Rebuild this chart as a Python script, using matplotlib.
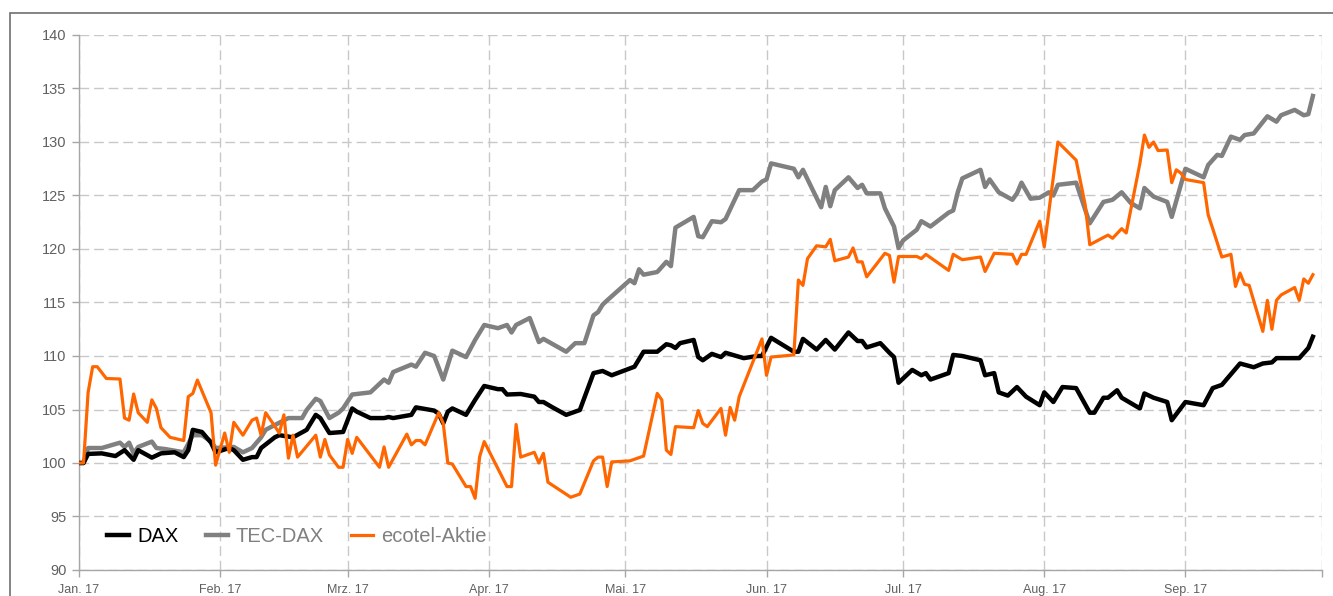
import matplotlib
matplotlib.use("Agg")
import matplotlib.pyplot as plt
import matplotlib.patches as patches
import pandas as pd

# Indexed performance 2017 (start = 100)

dax_dates = [
  "01-01", "01-02", "01-03", "01-06", "01-09", "01-11", "01-13", "01-14", "01-17", "01-19",
  "01-22", "01-24", "01-25", "01-26", "01-28", "01-30", "01-31", "02-03", "02-04", "02-06",
  "02-08", "02-09", "02-10", "02-13", "02-14", "02-17", "02-20", "02-22", "02-23", "02-25",
  "02-28", "03-02", "03-03", "03-06", "03-09", "03-10", "03-11", "03-15", "03-16", "03-20",
  "03-21", "03-22", "03-23", "03-24", "03-27", "03-29", "03-31", "04-03", "04-04", "04-05",
  "04-08", "04-11", "04-12", "04-13", "04-15", "04-18", "04-21", "04-24", "04-26", "04-28",
  "05-03", "05-05", "05-08", "05-10", "05-11", "05-12", "05-13", "05-16", "05-17", "05-18",
  "05-20", "05-22", "05-23", "05-27", "05-30", "05-31", "06-02", "06-07", "06-08", "06-09",
  "06-12", "06-14", "06-16", "06-19", "06-21", "06-22", "06-23", "06-26", "06-28", "06-29",
  "06-30", "07-03", "07-05", "07-06", "07-07", "07-11", "07-12", "07-14", "07-18", "07-19",
  "07-21", "07-22", "07-24", "07-26", "07-28", "07-31", "08-01", "08-03", "08-05", "08-08",
  "08-11", "08-12", "08-14", "08-15", "08-17", "08-18", "08-22", "08-23", "08-25", "08-28",
  "08-29", "09-01", "09-05", "09-07", "09-09", "09-13", "09-16", "09-18", "09-20", "09-21",
  "09-26", "09-28", "09-29"]
dax_values = [
  100.0, 100.0, 100.85, 100.9, 100.65, 101.2, 100.3, 101.2, 100.5, 100.9,
  101.0, 100.55, 101.2, 103.1, 102.9, 101.9, 101.0, 101.4, 101.2, 100.3,
  100.55, 100.55, 101.4, 102.4, 102.6, 102.4, 103.1, 104.5, 104.2, 102.8,
  102.9, 105.1, 104.8, 104.2, 104.2, 104.3, 104.2, 104.5, 105.2, 104.9,
  104.6, 103.7, 104.8, 105.1, 104.5, 105.9, 107.2, 106.9, 106.9, 106.4,
  106.45, 106.2, 105.7, 105.7, 105.2, 104.5, 104.95, 108.4, 108.6, 108.2,
  109.0, 110.4, 110.4, 111.1, 111.0, 110.75, 111.2, 111.5, 109.9, 109.6,
  110.2, 109.9, 110.3, 109.8, 110.0, 110.0, 111.7, 110.4, 110.4, 111.6,
  110.6, 111.5, 110.6, 112.2, 111.4, 111.4, 110.8, 111.2, 110.3, 109.9,
  107.5, 108.7, 108.2, 108.4, 107.8, 108.4, 110.1, 110.0, 109.6, 108.2,
  108.4, 106.6, 106.3, 107.1, 106.2, 105.4, 106.6, 105.7, 107.1, 107.0,
  104.7, 104.7, 106.1, 106.1, 106.8, 106.1, 105.1, 106.5, 106.1, 105.7,
  104.0, 105.7, 105.4, 107.0, 107.3, 109.3, 108.95, 109.3, 109.4, 109.8,
  109.8, 110.75, 111.8]

tec_dates = [
  "01-01", "01-02", "01-03", "01-06", "01-10", "01-11", "01-12", "01-13", "01-14", "01-17",
  "01-18", "01-20", "01-24", "01-26", "01-28", "01-30", "01-31", "02-04", "02-06", "02-08",
  "02-10", "02-11", "02-13", "02-16", "02-19", "02-20", "02-22", "02-23", "02-25", "02-27",
  "02-28", "03-02", "03-03", "03-06", "03-09", "03-10", "03-11", "03-15", "03-16", "03-18",
  "03-20", "03-22", "03-24", "03-27", "03-29", "03-31", "04-03", "04-05", "04-06", "04-07",
  "04-10", "04-12", "04-13", "04-18", "04-20", "04-22", "04-24", "04-25", "04-26", "04-27",
  "05-02", "05-03", "05-04", "05-05", "05-08", "05-10", "05-11", "05-12", "05-16", "05-17",
  "05-18", "05-20", "05-22", "05-23", "05-26", "05-29", "05-31", "06-01", "06-02", "06-07",
  "06-08", "06-09", "06-13", "06-14", "06-15", "06-16", "06-19", "06-21", "06-22", "06-23",
  "06-26", "06-27", "06-29", "06-30", "07-01", "07-04", "07-05", "07-07", "07-11", "07-12",
  "07-13", "07-14", "07-18", "07-19", "07-20", "07-22", "07-25", "07-26", "07-27", "07-29",
  "07-31", "08-02", "08-03", "08-04", "08-08", "08-11", "08-14", "08-16", "08-18", "08-20",
  "08-22", "08-23", "08-25", "08-28", "08-29", "09-01", "09-05", "09-06", "09-08", "09-09",
  "09-11", "09-13", "09-14", "09-16", "09-19", "09-21", "09-22", "09-25", "09-27", "09-28",
  "09-29"]
tec_values = [
  100.0, 100.0, 101.4, 101.4, 101.9, 101.5, 101.9, 100.9, 101.5, 102.0,
  101.4, 101.3, 101.0, 102.6, 102.6, 102.0, 101.4, 101.5, 101.0, 101.4,
  102.4, 103.1, 103.55, 104.2, 104.2, 104.95, 106.0, 105.8, 104.2, 104.7,
  105.1, 106.4, 106.45, 106.6, 107.8, 107.5, 108.5, 109.2, 109.0, 110.3,
  110.0, 107.8, 110.5, 109.9, 111.5, 112.9, 112.6, 112.9, 112.2, 112.9,
  113.55, 111.3, 111.6, 110.4, 111.2, 111.2, 113.8, 114.1, 114.8, 115.2,
  117.1, 116.8, 118.1, 117.6, 117.85, 118.8, 118.4, 122.0, 123.0, 121.2,
  121.1, 122.6, 122.5, 122.8, 125.5, 125.5, 126.3, 126.5, 128.0, 127.5,
  126.7, 127.4, 123.9, 125.8, 124.0, 125.5, 126.7, 125.7, 126.0, 125.2,
  125.2, 123.8, 122.1, 120.1, 120.8, 121.8, 122.6, 122.1, 123.4, 123.6,
  125.3, 126.6, 127.4, 125.8, 126.5, 125.3, 124.6, 125.2, 126.2, 124.7,
  124.8, 125.3, 125.0, 126.0, 126.2, 122.4, 124.4, 124.6, 125.3, 124.3,
  123.8, 125.7, 124.9, 124.4, 123.0, 127.5, 126.7, 127.85, 128.8, 128.7,
  130.5, 130.2, 130.65, 130.8, 132.4, 131.9, 132.5, 133.0, 132.5, 132.6,
  134.3]

eco_dates = [
  "01-01", "01-02", "01-03", "01-04", "01-05", "01-07", "01-10", "01-11", "01-12", "01-13",
  "01-14", "01-16", "01-17", "01-18", "01-19", "01-21", "01-24", "01-25", "01-26", "01-27",
  "01-30", "01-31", "02-02", "02-03", "02-04", "02-06", "02-08", "02-09", "02-10", "02-11",
  "02-14", "02-15", "02-16", "02-17", "02-18", "02-22", "02-23", "02-24", "02-25", "02-27",
  "02-28", "03-01", "03-02", "03-03", "03-08", "03-09", "03-10", "03-14", "03-15", "03-16",
  "03-17", "03-18", "03-21", "03-22", "03-23", "03-24", "03-27", "03-28", "03-29", "03-30",
  "03-31", "04-05", "04-06", "04-07", "04-08", "04-11", "04-12", "04-13", "04-14", "04-19",
  "04-21", "04-24", "04-25", "04-26", "04-27", "04-28", "05-02", "05-05", "05-08", "05-09",
  "05-10", "05-11", "05-12", "05-16", "05-17", "05-18", "05-19", "05-22", "05-23", "05-24",
  "05-25", "05-26", "05-31", "06-01", "06-02", "06-07", "06-08", "06-09", "06-10", "06-12",
  "06-14", "06-15", "06-16", "06-19", "06-20", "06-21", "06-22", "06-23", "06-27", "06-28",
  "06-29", "06-30", "07-04", "07-05", "07-06", "07-11", "07-12", "07-14", "07-18", "07-19",
  "07-21", "07-25", "07-26", "07-27", "07-28", "07-31", "08-01", "08-04", "08-08", "08-10",
  "08-11", "08-15", "08-16", "08-18", "08-19", "08-22", "08-23", "08-24", "08-25", "08-26",
  "08-28", "08-29", "08-30", "08-31", "09-01", "09-05", "09-06", "09-07", "09-09", "09-11",
  "09-12", "09-13", "09-14", "09-15", "09-18", "09-19", "09-20", "09-21", "09-22", "09-25",
  "09-26", "09-27", "09-28", "09-29"]
eco_values = [
  100.0, 100.0, 106.6, 109.0, 109.0, 107.9, 107.85, 104.2, 104.0, 106.45,
  104.7, 103.8, 105.9, 105.1, 103.3, 102.4, 102.1, 106.2, 106.5, 107.75,
  104.7, 99.8, 102.8, 101.0, 103.8, 102.6, 104.0, 104.2, 102.6, 104.7,
  102.8, 104.5, 100.45, 102.6, 100.55, 102.6, 100.55, 102.2, 100.75, 99.6,
  99.6, 102.2, 100.9, 102.4, 99.6, 101.5, 99.6, 102.7, 101.7, 102.1,
  102.1, 101.7, 104.7, 103.7, 100.0, 99.9, 97.8, 97.8, 96.7, 100.6,
  102.0, 97.8, 97.8, 103.6, 100.55, 101.0, 100.0, 100.9, 98.2, 96.8,
  97.1, 100.2, 100.55, 100.55, 97.8, 100.1, 100.2, 100.65, 106.5, 105.9,
  101.2, 100.8, 103.4, 103.3, 104.9, 103.7, 103.4, 105.1, 102.6, 105.2,
  104.0, 106.2, 111.6, 108.2, 109.9, 110.1, 117.1, 116.6, 119.1, 120.3,
  120.2, 120.9, 118.9, 119.25, 120.1, 118.8, 118.8, 117.4, 119.6, 119.4,
  116.9, 119.3, 119.3, 119.1, 119.5, 118.0, 119.5, 119.0, 119.25, 117.9,
  119.6, 119.5, 118.6, 119.5, 119.5, 122.6, 120.2, 130.0, 128.3, 124.1,
  120.4, 121.3, 121.0, 121.9, 121.5, 128.0, 130.65, 129.5, 130.0, 129.2,
  129.25, 126.2, 127.4, 127.1, 126.5, 126.2, 123.2, 121.9, 119.25, 119.5,
  116.5, 117.75, 116.7, 116.6, 112.3, 115.2, 112.5, 115.2, 115.7, 116.4,
  115.2, 117.2, 116.8, 117.6]

month_labels = ["Jan. 17", "Feb. 17", "Mrz. 17", "Apr. 17", "Mai. 17", "Jun. 17",
                "Jul. 17", "Aug. 17", "Sep. 17", ""]
y_ticks = [90, 95, 100, 105, 110, 115, 120, 125, 130, 135, 140]

assert len(dax_dates) == len(dax_values)
assert len(tec_dates) == len(tec_values)
assert len(eco_dates) == len(eco_values)


def to_dates(l):
  return pd.to_datetime(["2017-" + d for d in l])


plt.rcParams['font.family'] = ['Liberation Sans', 'DejaVu Sans']

fig = plt.figure(figsize=(13.33, 5.96), dpi=100)
ax = fig.add_axes([79/1333, 26/596, (1322-79)/1333, (570-35)/596])

# outer frame of the chart
fig.patches.append(patches.Rectangle((10/1333, -0.1), 1.2, 1.1 - 13/596,
                                     transform=fig.transFigure, fill=False,
                                     edgecolor="#6f6f6f", linewidth=1.2))

col_dax = "#000000"
col_tec = "#808080"
col_eco = "#ff6600"

ax.plot(to_dates(tec_dates), tec_values, color=col_tec, linewidth=3.2, label="TEC-DAX",
        zorder=3, solid_joinstyle="round")
ax.plot(to_dates(dax_dates), dax_values, color=col_dax, linewidth=3.2, label="DAX",
        zorder=4, solid_joinstyle="round")
ax.plot(to_dates(eco_dates), eco_values, color=col_eco, linewidth=2.3, label="ecotel-Aktie",
        zorder=5, solid_joinstyle="round")

month_starts = pd.date_range("2017-01-01", "2017-10-01", freq="MS")
ax.set_xlim(month_starts[0], month_starts[-1])
ax.set_ylim(90, 140)
ax.set_xticks(month_starts)
ax.set_xticklabels(month_labels)
ax.set_yticks(y_ticks)

ax.grid(True, color="#c8c8c8", linestyle=(0, (7, 3.5)), linewidth=1.0, zorder=0)
ax.set_axisbelow(True)

for s in ["top", "right"]:
  ax.spines[s].set_visible(False)
for s in ["left", "bottom"]:
  ax.spines[s].set_color("#a6a6a6")
  ax.spines[s].set_linewidth(1.0)

ax.tick_params(axis="y", colors="#a6a6a6", labelcolor="#606060", labelsize=10.5,
               length=5, width=1.0, pad=4)
ax.tick_params(axis="x", colors="#a6a6a6", labelcolor="#606060", labelsize=9,
               length=5, width=1.0, pad=5)

handles, labels = ax.get_legend_handles_labels()
order = [1, 0, 2]
leg = ax.legend([handles[i] for i in order], [labels[i] for i in order],
                loc="center left", bbox_to_anchor=(0.0225, 0.062), ncol=3, frameon=False,
                fontsize=14.5, handlelength=1.1, handletextpad=0.4, columnspacing=1.35,
                borderpad=0, borderaxespad=0)
for t, c in zip(leg.get_texts(), ["#000000", "#808080", "#808080"]):
  t.set_color(c)

plt.savefig("out.png", dpi=100)
